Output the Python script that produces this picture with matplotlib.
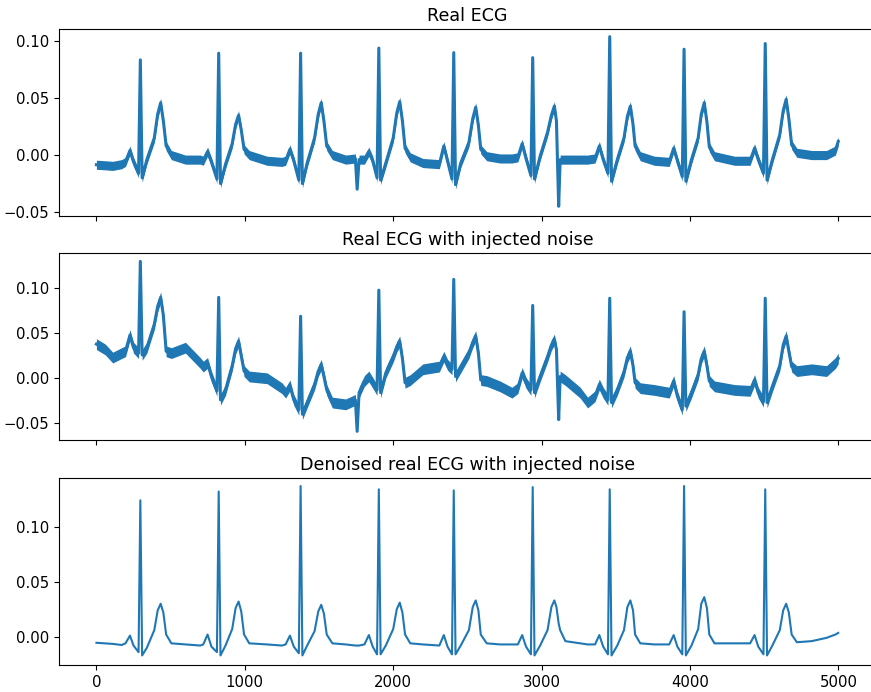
import numpy as np
import matplotlib.pyplot as plt

# vertices (sample index); same timing in all three panels
t = [0, 60, 110, 170,
     196, 226, 250, 284, 296, 308, 340, 390, 413, 433, 451, 470, 505, 600, 700,
     720, 749, 775, 812, 824, 836, 870, 915, 938, 958, 976, 995, 1030, 1150, 1250,
     1275, 1304, 1330, 1364, 1376, 1388, 1420, 1470, 1495, 1515, 1533, 1552, 1590, 1680, 1745, 1757, 1770,
     1806, 1836, 1862, 1891, 1903, 1915, 1950, 2000, 2024, 2044, 2062, 2080, 2115, 2200,
     2311, 2341, 2366, 2396, 2408, 2420, 2455, 2510, 2536, 2556, 2574, 2590, 2630, 2720, 2800,
     2840, 2869, 2895, 2928, 2940, 2952, 2990, 3040, 3066, 3086, 3100, 3115, 3125, 3160, 3260, 3310,
     3360, 3389, 3415, 3447, 3459, 3471, 3510, 3555, 3578, 3598, 3616, 3630, 3665, 3760,
     3860, 3890, 3915, 3948, 3960, 3972, 4010, 4055, 4076, 4096, 4114, 4130, 4165, 4300,
     4405, 4435, 4460, 4495, 4507, 4519, 4555, 4605, 4628, 4648, 4666, 4685, 4720, 4820, 4920, 4980, 4999]

real = [-0.0085, -0.009, -0.0095, -0.008,
        -0.006, 0.004, -0.006, -0.016, 0.0836, -0.020, -0.004, 0.015, 0.036, 0.046, 0.030, 0.008, 0.000, -0.004, -0.004,
        -0.005, 0.003, -0.006, -0.021, 0.0895, -0.025, -0.008, 0.010, 0.027, 0.035, 0.022, 0.005, 0.000, -0.005, -0.006,
        -0.005, 0.005, -0.005, -0.022, 0.0895, -0.025, -0.007, 0.015, 0.036, 0.046, 0.030, 0.008, 0.000, -0.004, -0.003, -0.030, -0.004,
        -0.004, 0.003, -0.005, -0.020, 0.094, -0.022, -0.007, 0.015, 0.037, 0.047, 0.030, 0.006, -0.002, -0.007,
        -0.008, 0.008, -0.005, -0.021, 0.090, -0.026, -0.007, 0.011, 0.032, 0.042, 0.026, 0.005, -0.001, -0.003, -0.003,
        -0.002, 0.010, -0.003, -0.018, 0.0856, -0.021, -0.001, 0.020, 0.035, 0.043, 0.030, -0.045, -0.004, -0.004, -0.004, -0.004,
        -0.003, 0.008, -0.004, -0.016, 0.104, -0.023, -0.004, 0.015, 0.034, 0.043, 0.027, 0.008, -0.001, -0.005,
        -0.006, 0.006, -0.005, -0.019, 0.093, -0.023, -0.004, 0.015, 0.036, 0.046, 0.029, 0.007, -0.001, -0.005,
        -0.005, 0.006, -0.004, -0.016, 0.098, -0.022, -0.004, 0.018, 0.039, 0.049, 0.032, 0.009, 0.002, 0.000, 0.000, 0.004, 0.012]

noisy = [0.038, 0.032, 0.023, 0.028,
         0.030, 0.048, 0.034, 0.028, 0.130, 0.026, 0.034, 0.060, 0.080, 0.090, 0.070, 0.030, 0.028, 0.034, 0.017,
         0.013, 0.017, 0.002, -0.014, 0.090, -0.024, -0.013, 0.014, 0.033, 0.041, 0.025, 0.008, 0.002, 0.000, -0.011,
         -0.016, -0.008, -0.024, -0.035, 0.069, -0.040, -0.027, -0.007, 0.008, 0.015, 0.002, -0.013, -0.027, -0.029, -0.024, -0.059, -0.016,
         -0.003, 0.002, -0.005, -0.013, 0.098, -0.016, 0.006, 0.024, 0.035, 0.041, 0.022, -0.005, -0.002, 0.010,
         0.013, 0.024, 0.015, 0.010, 0.110, 0.002, 0.012, 0.028, 0.040, 0.047, 0.028, -0.002, -0.003, -0.009, -0.016,
         -0.011, 0.006, -0.005, -0.013, 0.081, -0.016, 0.002, 0.024, 0.037, 0.043, 0.032, -0.046, 0.002, -0.002, -0.016, -0.027,
         -0.020, -0.007, -0.016, -0.024, 0.089, -0.027, -0.013, 0.007, 0.023, 0.030, 0.014, -0.005, -0.011, -0.013,
         -0.016, -0.003, -0.020, -0.035, 0.074, -0.031, -0.016, 0.004, 0.022, 0.030, 0.014, -0.003, -0.009, -0.013,
         -0.014, -0.002, -0.016, -0.026, 0.089, -0.027, -0.009, 0.014, 0.037, 0.047, 0.030, 0.013, 0.008, 0.010, 0.008, 0.017, 0.022]

denoised = [-0.0055, -0.006, -0.0065, -0.0075,
            -0.006, 0.001, -0.008, -0.014, 0.124, -0.017, -0.010, 0.006, 0.024, 0.030, 0.022, 0.002, -0.006, -0.007, -0.008,
            -0.007, 0.002, -0.009, -0.014, 0.132, -0.017, -0.008, 0.007, 0.026, 0.032, 0.023, 0.002, -0.006, -0.007, -0.008,
            -0.007, 0.001, -0.009, -0.015, 0.137, -0.017, -0.008, 0.005, 0.023, 0.029, 0.021, 0.002, -0.006, -0.007, -0.008, -0.008, -0.008,
            -0.007, 0.0015, -0.009, -0.016, 0.134, -0.016, -0.008, 0.007, 0.025, 0.031, 0.022, 0.002, -0.006, -0.007,
            -0.008, 0.0015, -0.009, -0.016, 0.133, -0.016, -0.008, 0.006, 0.027, 0.033, 0.024, 0.002, -0.006, -0.007, -0.007,
            -0.007, 0.0015, -0.009, -0.016, 0.136, -0.017, -0.008, 0.006, 0.027, 0.033, 0.027, 0.012, 0.006, -0.004, -0.006, -0.007,
            -0.007, 0.0015, -0.009, -0.016, 0.134, -0.017, -0.008, 0.006, 0.027, 0.033, 0.024, 0.002, -0.006, -0.007,
            -0.007, 0.0015, -0.009, -0.016, 0.137, -0.017, -0.008, 0.007, 0.030, 0.036, 0.026, 0.002, -0.006, -0.006,
            -0.006, 0.0015, -0.009, -0.016, 0.134, -0.017, -0.008, 0.006, 0.024, 0.030, 0.022, 0.002, -0.005, -0.004, -0.001, 0.002, 0.0035]

# samples where the trace is a sharp spike (no noise band drawn there)
spikes = [296, 824, 1376, 1903, 2408, 2940, 3459, 3960, 4507, 1757, 3115]
noise_real = 0.004      # half width of the noise band, real ECG
noise_injected = 0.006  # half width with injected noise

titles = ["Real ECG", "Real ECG with injected noise", "Denoised real ECG with injected noise"]

t = np.array(t)
fig = plt.figure(figsize=(8.71, 6.92), dpi=100)
left, width, h = 0.0681, 0.9369, 0.2698
ax1 = fig.add_axes([left, 0.6879, width, h])
ax2 = fig.add_axes([left, 0.3642, width, h], sharex=ax1)
ax3 = fig.add_axes([left, 0.0390, width, h], sharex=ax1)

color = "#1f77b4"
quiet = np.isin(t, spikes)
for ax, y, w in [(ax1, real, noise_real), (ax2, noisy, noise_injected), (ax3, denoised, 0)]:
    y = np.array(y)
    if w:
        band = np.where(quiet, 0, w)
        ax.fill_between(t, y - band, y + band, color=color, lw=0)
        ax.plot(t, y, color=color, lw=2.2)
    else:
        ax.plot(t, y, color=color, lw=1.5)

for ax, title in zip([ax1, ax2, ax3], titles):
    ax.set_title(title, fontsize=12.6)
    ax.tick_params(labelsize=10.7)
    ax.spines["right"].set_visible(False)

ax1.set_xlim(-250, 5249)
ax1.set_ylim(-0.0535, 0.1105)
ax2.set_ylim(-0.0686, 0.139)
ax3.set_ylim(-0.0257, 0.144)
ax1.set_yticks([-0.05, 0.0, 0.05, 0.10])
ax2.set_yticks([-0.05, 0.0, 0.05, 0.10])
ax3.set_yticks([0.0, 0.05, 0.10])
ax3.set_xticks([0, 1000, 2000, 3000, 4000, 5000])
ax1.tick_params(labelbottom=False)
ax2.tick_params(labelbottom=False)

fig.savefig("out.png", dpi=100)
